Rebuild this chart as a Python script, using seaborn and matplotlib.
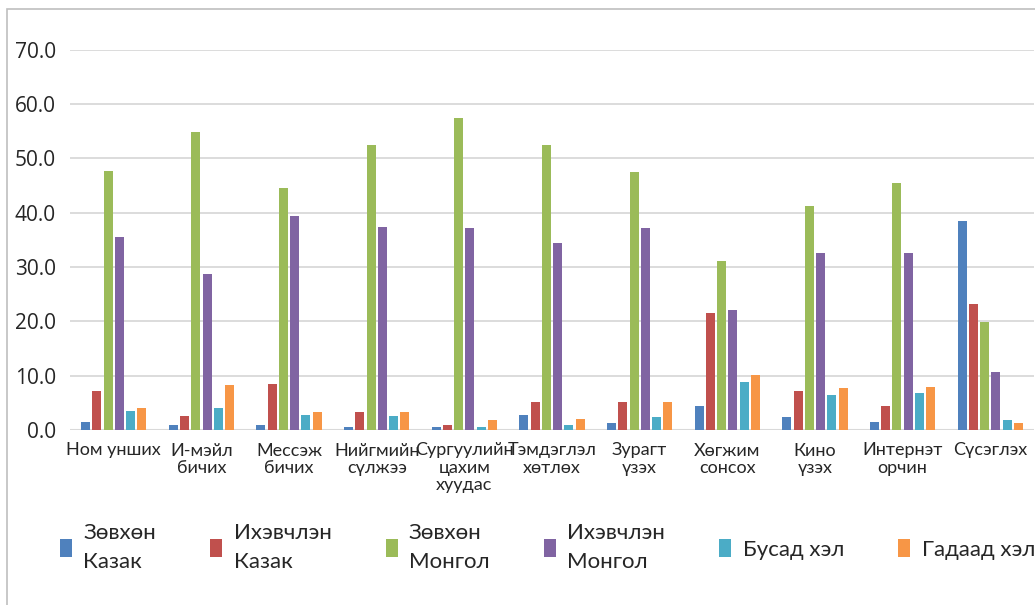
import matplotlib
matplotlib.use("Agg")
import matplotlib.pyplot as plt
from matplotlib.patches import Rectangle
import seaborn as sns
import pandas as pd

activities = ["Ном унших", "И-мэйл\nбичих", "Мессэж\nбичих", "Нийгмийн\nсүлжээ",
              "Сургуулийн\nцахим\nхуудас", "Тэмдэглэл\nхөтлөх", "Зурагт\nүзэх",
              "Хөгжим\nсонсох", "Кино\nүзэх", "Интернэт\nорчин", "Сүсэглэх"]

series_names = ["Зөвхөн\nКазак", "Ихэвчлэн\nКазак", "Зөвхөн\nМонгол",
                "Ихэвчлэн\nМонгол", "Бусад хэл", "Гадаад хэл"]

only_kazakh    = [1.4, 0.9, 0.9, 0.6, 0.6, 2.8, 1.3, 4.4, 2.3, 1.5, 38.4]
mostly_kazakh  = [7.1, 2.5, 8.4, 3.3, 0.9, 5.2, 5.2, 21.5, 7.2, 4.4, 23.1]
only_mongol    = [47.7, 54.8, 44.6, 52.4, 57.4, 52.4, 47.5, 31.1, 41.2, 45.4, 19.8]
mostly_mongol  = [35.5, 28.7, 39.4, 37.3, 37.1, 34.4, 37.1, 22.1, 32.6, 32.6, 10.7]
other_lang     = [3.5, 4.0, 2.7, 2.5, 0.6, 1.0, 2.3, 8.8, 6.5, 6.8, 1.8]
foreign_lang   = [4.0, 8.2, 3.3, 3.3, 1.9, 2.1, 5.2, 10.1, 7.8, 8.0, 1.3]

palette = ["#4F81BD", "#C0504D", "#9BBB59", "#8064A2", "#4BACC6", "#F79646"]

series_values = [only_kazakh, mostly_kazakh, only_mongol, mostly_mongol,
                 other_lang, foreign_lang]
rows = []
for name, vals in zip(series_names, series_values):
    for act, v in zip(activities, vals):
        rows.append({"activity": act, "language": name, "value": v})
df = pd.DataFrame(rows)

sns.set_theme(style="white")
plt.rcParams["font.family"] = ["Lato", "DejaVu Sans"]

W, H = 1035, 605
fig = plt.figure(figsize=(W / 100, H / 100), dpi=100)
ax = fig.add_axes([70 / W, 1 - 430 / H, (1034 - 70) / W, (430 - 49.5) / H])

sns.barplot(data=df, x="activity", y="value", hue="language",
            palette=palette, saturation=1, width=0.77, gap=0.2,
            order=activities, hue_order=series_names,
            edgecolor="none", linewidth=0, ax=ax, zorder=3)

ax.set_ylim(0, 70)
ax.set_xlim(-0.5, len(activities) - 0.5)
ax.set_yticks(range(0, 71, 10))
ax.set_yticklabels([f"{v:.1f}" for v in range(0, 71, 10)],
                   fontfamily="Open Sans", fontsize=15, color="#262626")
ax.yaxis.grid(True, color="#D9D9D9", linewidth=1.3, zorder=0)
ax.xaxis.grid(False)
for s in ax.spines.values():
    s.set_visible(False)
ax.axhline(0, color="#D9D9D9", linewidth=1.5, zorder=2)
ax.tick_params(axis="y", length=0, pad=10)
ax.tick_params(axis="x", length=0, pad=9)
ax.set_xlabel("")
ax.set_ylabel("")
for t in ax.get_xticklabels():
    t.set_fontsize(13)
    t.set_color("#262626")
    t.set_linespacing(1.08)

handles, labels = ax.get_legend_handles_labels()
ax.get_legend().remove()
leg = fig.legend(handles, labels, loc="upper left",
                 bbox_to_anchor=(49 / W, 1 - 512 / H), ncol=6, frameon=False,
                 fontsize=16, handlelength=0.54, handleheight=0.86,
                 handletextpad=0.5, columnspacing=2.45, borderpad=0,
                 labelcolor="#262626")
for t in leg.get_texts():
    t.set_linespacing(1.55)

# outer chart frame
fig.patches.append(Rectangle((7 / W, -0.1), 1.2, 1 - 9 / H + 0.1,
                             transform=fig.transFigure, fill=False,
                             edgecolor="#BFBFBF", linewidth=1.2))

fig.savefig("out.png", dpi=100)
